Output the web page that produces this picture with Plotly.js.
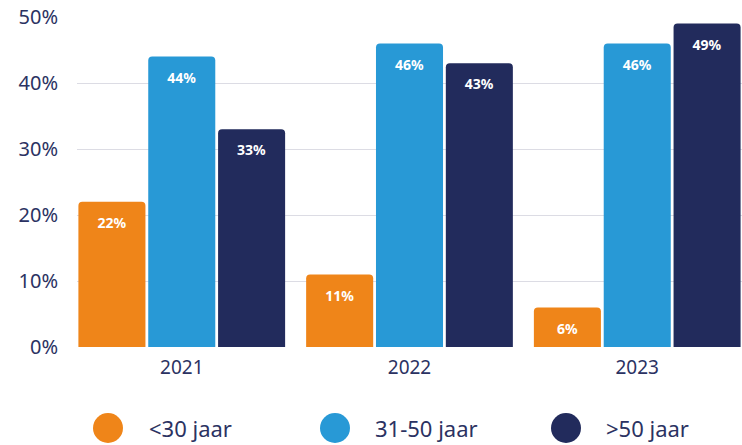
<!DOCTYPE html>
<html><head><meta charset="utf-8">
<script src="https://cdn.plot.ly/plotly-3.0.1.min.js"></script>
<style>html,body{margin:0;padding:0;background:#fff}#c{width:742px;height:445px}</style>
</head><body><div id="c"></div>
<script>
const years = ['2021','2022','2023'];
const seriesNames = ['<30 jaar','31-50 jaar','>50 jaar'];
const under30 = [22, 11, 6];
const mid = [44, 46, 46];
const over50 = [33, 43, 49];
const colors = ['#EF8519','#2899D6','#222B5C'];
const yTicks = [0,10,20,30,40,50];

const values = [under30, mid, over50];
const font = '"Noto Sans", sans-serif';
const textCol = '#2B3262';

const traces = values.map((v,i)=>({
  type:'bar', x: years, y: v, name: seriesNames[i],
  marker:{color: colors[i], cornerradius: 4},
  text: v.map(d=>'<span style="font-size:4px"> </span><br>'+d+'%'), textposition:'inside', insidetextanchor:'end',
  textfont:{color:'#fff', size:14, family:font, weight:'bold'},
  hoverinfo:'none', showlegend:false
}));

const legX = [108, 335, 566];
const legTX = [147, 373, 604];
const shapes = [], annotations = [];
const px = v => (v-77)/665;
const py = v => (347-v)/330;
seriesNames.forEach((n,i)=>{
  shapes.push({type:'circle', xref:'paper', yref:'paper', xsizemode:'pixel', ysizemode:'pixel',
    xanchor: px(legX[i]), yanchor: py(428), x0:-15, x1:15, y0:-15, y1:15,
    fillcolor: colors[i], line:{width:0}});
  annotations.push({xref:'paper', yref:'paper', x: px(legTX[i]), y: py(428), xanchor:'left', yanchor:'middle',
    text: n.replace('<','&lt;').replace('>','&gt;'), showarrow:false, font:{size:22, color:textCol, family:font}});
});

Plotly.newPlot('c', traces, {
  width:742, height:445,
  margin:{l:77, r:0, t:17, b:98},
  paper_bgcolor:'#fff', plot_bgcolor:'#fff',
  barmode:'group', bargap:0.08, bargroupgap:0.04,
  xaxis:{type:'category', range:[-0.46, 2.46], showgrid:false, zeroline:false, showline:false,
    tickfont:{size:19, color:textCol, family:font}, ticks:'outside', ticklen:3, tickcolor:'rgba(0,0,0,0)'},
  yaxis:{range:[0,50], tickvals: yTicks, ticktext: yTicks.map(t=>t+'%'),
    showgrid:true, gridcolor:'#DCDCE4', gridwidth:1, zeroline:false, showline:false,
    tickfont:{size:20, color:textCol, family:font}, ticks:'outside', ticklen:14, tickcolor:'rgba(0,0,0,0)'},
  shapes, annotations, showlegend:false
}, {staticPlot:true});
</script></body></html>
